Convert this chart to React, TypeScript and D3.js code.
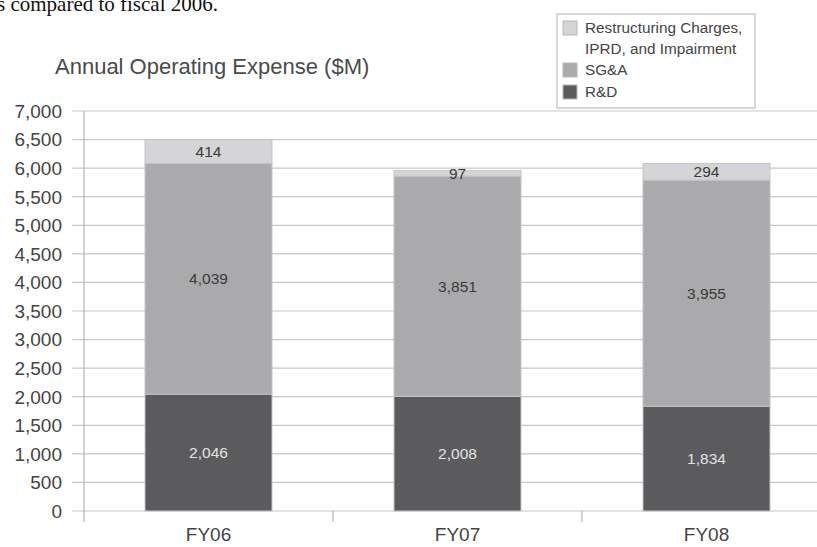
import React from "react";
import * as d3 from "d3";

const categories = ["FY06", "FY07", "FY08"];
const seriesNames = ["R&D", "SG&A", "Restructuring Charges, IPRD, and Impairment"];
const rdValues = [2046, 2008, 1834];
const sgaValues = [4039, 3851, 3955];
const restructValues = [414, 97, 294];
const yTicks = [0, 500, 1000, 1500, 2000, 2500, 3000, 3500, 4000, 4500, 5000, 5500, 6000, 6500, 7000];
const legendLines = [["Restructuring Charges,", "IPRD, and Impairment"], ["SG&A"], ["R&D"]];

const W = 817;
const H = 547;
const colors = ["#5b5b5d", "#aaaaac", "#d5d5d7"];
const labelColors = ["#e2e2e2", "#3a3a3a", "#3a3a3a"];
const font = "'Liberation Sans', Arial, Helvetica, sans-serif";

export default function App() {
  const y = d3.scaleLinear().domain([0, 7000]).range([511, 111]);
  const x = d3.scaleBand<string>().domain(categories).range([84, 831]).paddingInner(0.49).paddingOuter(0.245);
  const rows = categories.map((c, i) => ({ cat: c, rd: rdValues[i], sga: sgaValues[i], re: restructValues[i] }));
  const stack = d3.stack<any>().keys(["rd", "sga", "re"])(rows);
  const fmt = d3.format(",");
  const boundaries = [1, 2, 3].map((k) => (x.range()[0] + k * x.step()));

  return (
    <svg width={W} height={H} style={{ position: "absolute", left: 0, top: 0, background: "#fff" }}>
      <text x={-3} y={11} fontFamily="'Liberation Serif', 'Times New Roman', serif" fontSize={21} fill="#111">
        s compared to fiscal 2006.
      </text>
      <text x={55} y={74} fontFamily={font} fontSize={22} fill="#4a4a4a">
        Annual Operating Expense ($M)
      </text>
      {yTicks.map((t) => (
        <g key={t}>
          <line x1={72} x2={W} y1={y(t)} y2={y(t)} stroke="#c6c6c6" strokeWidth={1.2} />
          <text x={62} y={y(t)} dy="0.36em" textAnchor="end" fontFamily={font} fontSize={19} fill="#444">
            {fmt(t)}
          </text>
        </g>
      ))}
      <line x1={84} x2={84} y1={111} y2={522} stroke="#b5b5b5" strokeWidth={1.2} />
      {boundaries.map((b, i) => (
        <line key={i} x1={b} x2={b} y1={511} y2={522} stroke="#b5b5b5" strokeWidth={1.2} />
      ))}
      {stack.map((s, si) => (
        <g key={si}>
          {s.map((d, i) => (
            <g key={i}>
              <rect
                x={x(categories[i])!}
                width={x.bandwidth()}
                y={y(d[1])}
                height={y(d[0]) - y(d[1])}
                fill={colors[si]}
                stroke="#c4c4c4"
                strokeWidth={1}
              />
              <text
                x={x(categories[i])! + x.bandwidth() / 2}
                y={(y(d[0]) + y(d[1])) / 2}
                dy="0.36em"
                textAnchor="middle"
                fontFamily={font}
                fontSize={15.5}
                fill={labelColors[si]}
              >
                {fmt(d[1] - d[0])}
              </text>
            </g>
          ))}
        </g>
      ))}
      {categories.map((c) => (
        <text key={c} x={x(c)! + x.bandwidth() / 2} y={541} textAnchor="middle" fontFamily={font} fontSize={19} fill="#444">
          {c}
        </text>
      ))}
      <g>
        <rect x={557} y={14} width={198} height={94} fill="#fff" stroke="#b0b0b0" strokeWidth={1} />
        {[
          { sw: 21, base: [33, 54], ci: 2 },
          { sw: 63, base: [75], ci: 1 },
          { sw: 85, base: [97], ci: 0 },
        ].map((it, i) => (
          <g key={i}>
            <rect x={563} y={it.sw} width={14} height={14} fill={colors[it.ci]} stroke="#b8b8b8" />
            {legendLines[i].map((ln, j) => (
              <text key={j} x={585} y={it.base[j]} fontFamily={font} fontSize={15.3} fill="#444">
                <title>{seriesNames[it.ci]}</title>
                {ln}
              </text>
            ))}
          </g>
        ))}
      </g>
    </svg>
  );
}
